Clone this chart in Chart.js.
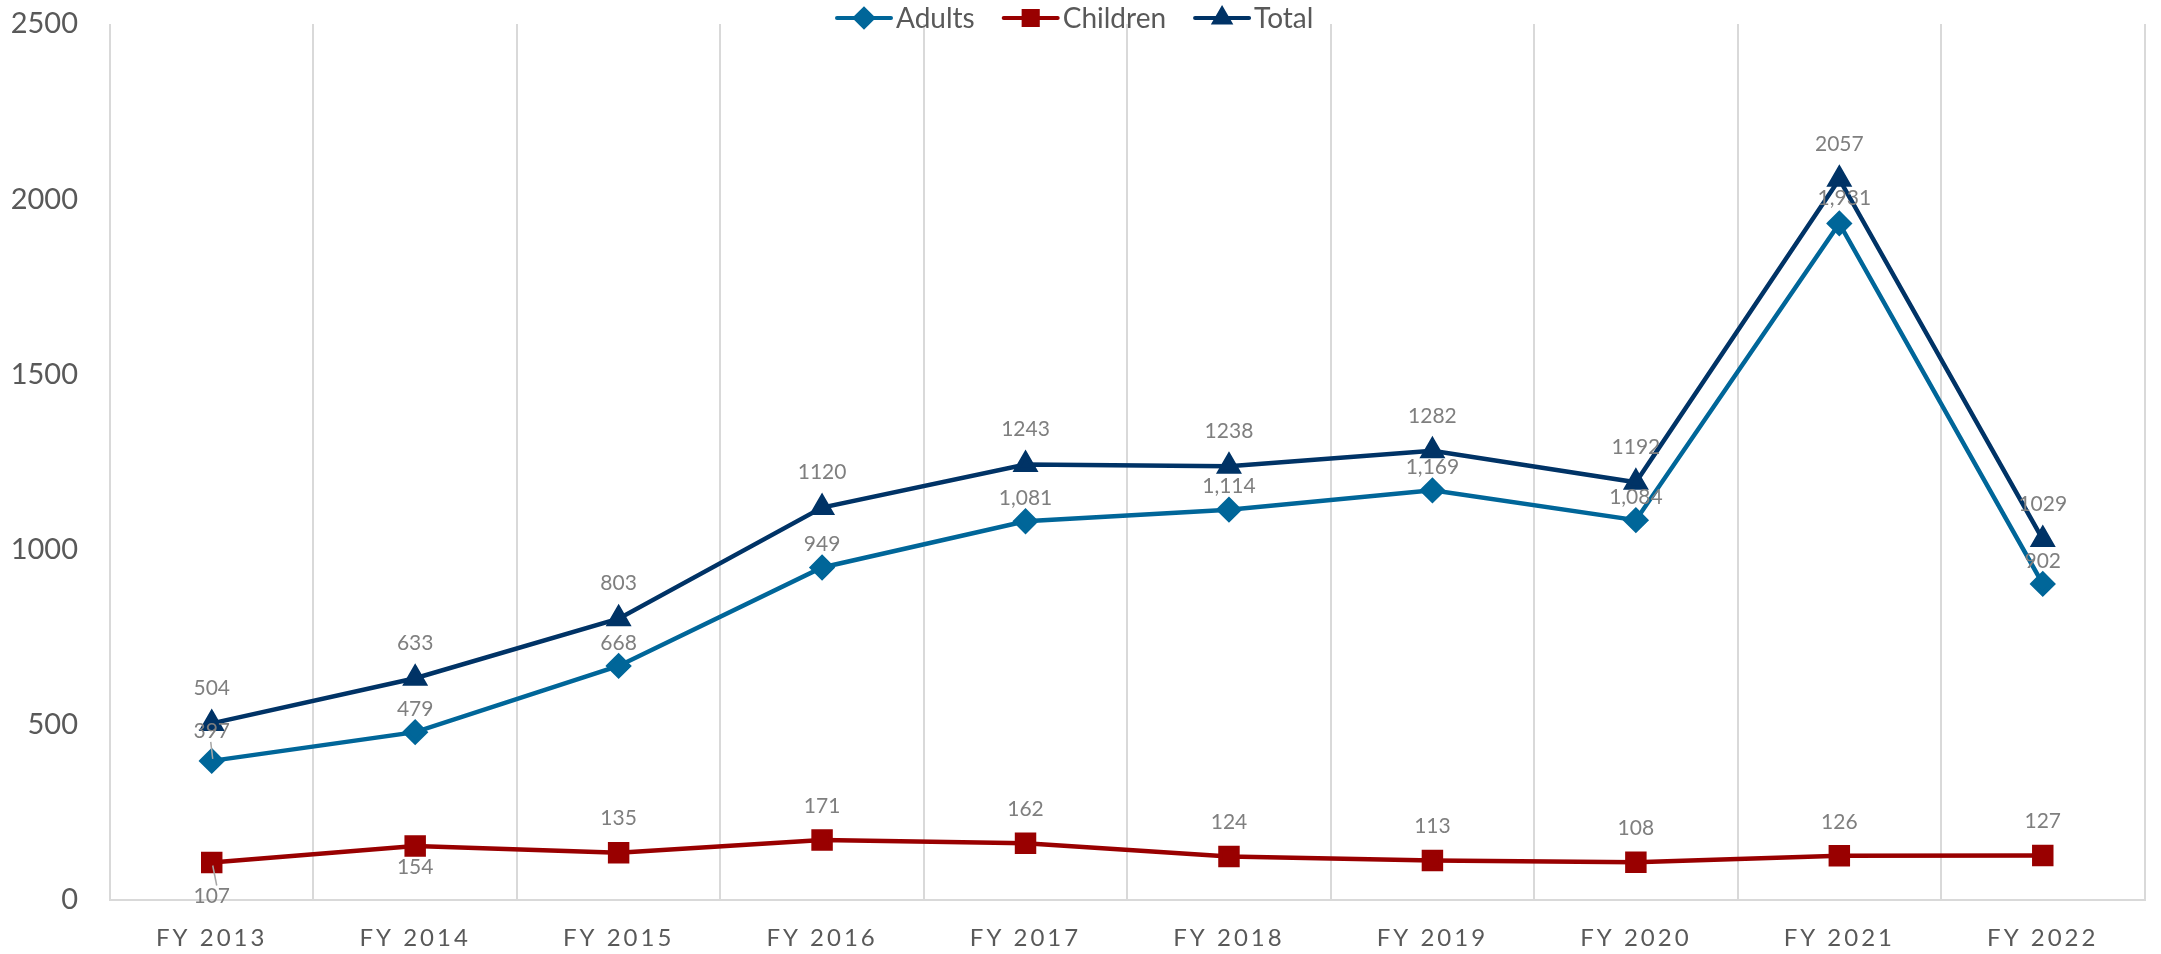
<!DOCTYPE html>
<html>
<head>
<meta charset="utf-8">
<script src="https://cdn.jsdelivr.net/npm/chart.js@4.4.1/dist/chart.umd.min.js"></script>
<style>
  html, body { margin: 0; padding: 0; background: #ffffff; }
  #wrap { width: 2161px; height: 954px; position: relative; }
</style>
</head>
<body>
<div id="wrap"><canvas id="c"></canvas></div>
<script>
const categories = ['FY 2013','FY 2014','FY 2015','FY 2016','FY 2017','FY 2018','FY 2019','FY 2020','FY 2021','FY 2022'];
const adults   = [397, 479, 668, 949, 1081, 1114, 1169, 1084, 1931, 902];
const children = [107, 154, 135, 171, 162, 124, 113, 108, 126, 127];
const total    = [504, 633, 803, 1120, 1243, 1238, 1282, 1192, 2057, 1029];
const yTicks   = [0, 500, 1000, 1500, 2000, 2500];

const FONT = 'Lato, "Open Sans", sans-serif';
const TEXT = '#595959';
const LABEL = '#7f7f7f';

const C_ADULT = '#006699';
const C_CHILD = '#990000';
const C_TOTAL = '#003366';

// Data label plugin
const labelPlugin = {
  id: 'dataLabels',
  afterDatasetsDraw(chart) {
    const ctx = chart.ctx;
    ctx.save();
    ctx.font = '21px ' + FONT;
    ctx.fillStyle = LABEL;
    ctx.textAlign = 'center';
    ctx.textBaseline = 'middle';
    chart.data.datasets.forEach((ds, di) => {
      const meta = chart.getDatasetMeta(di);
      meta.data.forEach((pt, i) => {
        const v = ds.data[i];
        let dy, txt, leader = false;
        if (ds.label === 'Adults') {
          txt = v.toLocaleString('en-US');
          dy = -23;
          if (i === 0) { dy = -30; leader = true; }
          if (i === 8) dy = -25;
        } else if (ds.label === 'Children') {
          txt = String(v);
          dy = -34;
          if (i === 0) { dy = 34; leader = true; }
          if (i === 1) dy = 21;
        } else {
          txt = String(v);
          dy = -35;
        }
        let dx = (ds.label === 'Adults' && i === 8) ? 5 : 0;
        if (leader) {
          ctx.save();
          ctx.strokeStyle = '#a6a6a6';
          ctx.lineWidth = 1.5;
          ctx.beginPath();
          if (dy < 0) {
            ctx.moveTo(pt.x - 1, pt.y + dy + 11);
            ctx.lineTo(pt.x + 1, pt.y - 2);
          } else {
            ctx.moveTo(pt.x + 1, pt.y + 3);
            ctx.lineTo(pt.x + 5, pt.y + dy - 11);
          }
          ctx.stroke();
          ctx.restore();
        }
        ctx.fillText(txt, pt.x + dx, pt.y + dy);
      });
    });
    ctx.restore();
  }
};

// Custom legend plugin (line + marker + text)
const legendPlugin = {
  id: 'customLegend',
  afterDraw(chart) {
    const ctx = chart.ctx;
    ctx.save();
    ctx.font = '28px ' + FONT;
    ctx.textBaseline = 'middle';
    ctx.textAlign = 'left';
    let x = 837;
    const y = 18;
    chart.data.datasets.forEach((ds) => {
      ctx.strokeStyle = ds.borderColor;
      ctx.lineWidth = 4;
      ctx.lineCap = 'round';
      ctx.beginPath();
      ctx.moveTo(x, y);
      ctx.lineTo(x + 54, y);
      ctx.stroke();
      ctx.fillStyle = ds.borderColor;
      Chart.helpers.drawPoint(ctx, {
        pointStyle: ds.pointStyle,
        radius: ds.label === 'Children' ? 10 : 9,
        borderWidth: 1
      }, x + 27, y);
      ctx.fill();
      ctx.fillStyle = TEXT;
      ctx.fillText(ds.label, x + 59, y + 1);
      x += 59 + ctx.measureText(ds.label).width + 29;
    });
    ctx.restore();
  }
};

// Letter spacing for x-axis labels
const spacingPlugin = {
  id: 'xSpacing',
  afterLayout(chart) {
    const sx = chart.scales.x;
    if (sx && !sx._spacedPatch) {
      const orig = sx.drawLabels.bind(sx);
      sx.drawLabels = function(area) {
        const ctx = this.ctx;
        ctx.save();
        ctx.letterSpacing = '3px';
        orig(area);
        ctx.restore();
      };
      sx._spacedPatch = true;
    }
  }
};

new Chart(document.getElementById('c'), {
  type: 'line',
  data: {
    labels: categories,
    datasets: [
      {
        label: 'Adults', data: adults,
        borderColor: C_ADULT, backgroundColor: C_ADULT,
        pointBackgroundColor: C_ADULT, pointBorderColor: C_ADULT,
        pointStyle: 'rectRot', pointRadius: 10, pointHoverRadius: 10,
        borderWidth: 4.5, tension: 0, fill: false
      },
      {
        label: 'Children', data: children,
        borderColor: C_CHILD, backgroundColor: C_CHILD,
        pointBackgroundColor: C_CHILD, pointBorderColor: C_CHILD,
        pointStyle: 'rect', pointRadius: 12, pointHoverRadius: 12,
        borderWidth: 4.5, tension: 0, fill: false
      },
      {
        label: 'Total', data: total,
        borderColor: C_TOTAL, backgroundColor: C_TOTAL,
        pointBackgroundColor: C_TOTAL, pointBorderColor: C_TOTAL,
        pointStyle: 'triangle', pointRadius: 10.5, pointHoverRadius: 10.5,
        borderWidth: 4.5, tension: 0, fill: false
      }
    ]
  },
  options: {
    responsive: true,
    maintainAspectRatio: false,
    devicePixelRatio: 1,
    animation: false,
    layout: { padding: { top: 24, right: 4, left: 0, bottom: 0 } },
    plugins: {
      legend: { display: false },
      tooltip: { enabled: false },
      title: { display: false }
    },
    scales: {
      x: {
        type: 'category',
        offset: true,
        grid: { display: true, offset: true, color: '#d9d9d9', lineWidth: 2, drawTicks: false },
        border: { display: true, color: '#d9d9d9', width: 2 },
        ticks: { color: TEXT, font: { family: FONT, size: 24 }, padding: 24, maxRotation: 0, autoSkip: false },
        afterFit(s) { s.height = 54; s.paddingLeft = 0; s.paddingRight = 0; }
      },
      y: {
        min: 0, max: 2500,
        afterBuildTicks(s) { s.ticks = yTicks.map(v => ({ value: v })); },
        grid: { display: false, drawTicks: false },
        border: { display: false },
        ticks: {
          color: TEXT, font: { family: FONT, size: 29 }, padding: 32,
          callback: (v) => String(v)
        },
        afterFit(s) { s.width = 110; s.paddingTop = 0; s.paddingBottom = 0; }
      }
    }
  },
  plugins: [labelPlugin, legendPlugin, spacingPlugin]
});
</script>
</body>
</html>
